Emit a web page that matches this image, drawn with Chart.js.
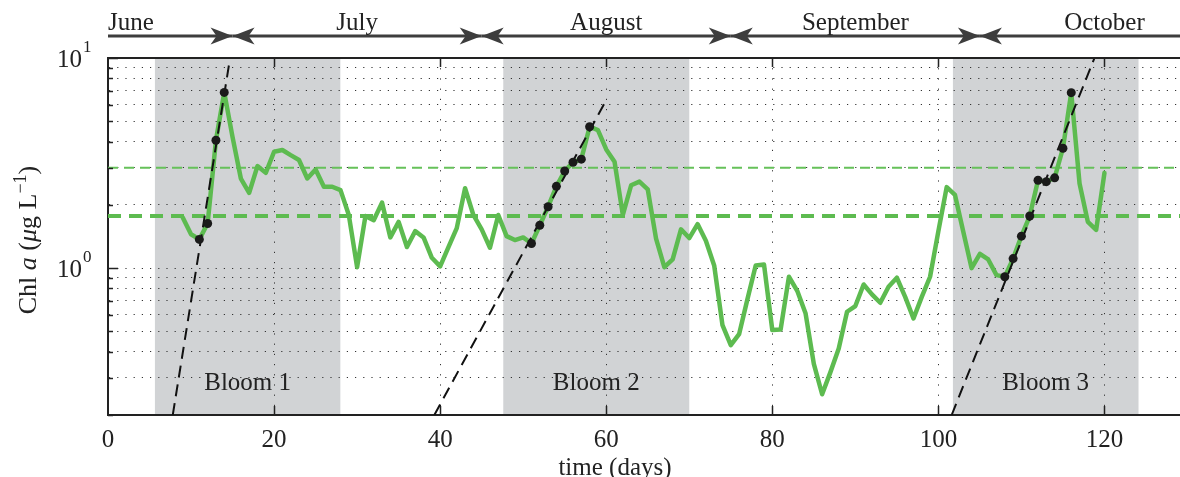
<!DOCTYPE html>
<html>
<head>
<meta charset="utf-8">
<script src="https://cdn.jsdelivr.net/npm/chart.js@4/dist/chart.umd.min.js"></script>
<style>
  html, body { margin: 0; padding: 0; overflow: hidden; background: #fff; }
  #wrap { width: 1192px; height: 477px; }
</style>
</head>
<body>
<div id="wrap"><canvas id="chlChart"></canvas></div>
<script>
/* Chl a time series, one value per day */
const days = [9, 10, 11, 12, 13, 14, 15, 16, 17, 18, 19, 20, 21, 22, 23, 24, 25, 26, 27, 28,
  29, 30, 31, 32, 33, 34, 35, 36, 37, 38, 39, 40, 41, 42, 43, 44, 45, 46, 47, 48,
  49, 50, 51, 52, 53, 54, 55, 56, 57, 58, 59, 60, 61, 62, 63, 64, 65, 66, 67, 68,
  69, 70, 71, 72, 73, 74, 75, 76, 77, 78, 79, 80, 81, 82, 83, 84, 85, 86, 87, 88,
  89, 90, 91, 92, 93, 94, 95, 96, 97, 98, 99, 100, 101, 102, 103, 104, 105, 106, 107, 108,
  109, 110, 111, 112, 113, 114, 115, 116, 117, 118, 119, 120];
const chl = [1.74, 1.45, 1.37, 1.63, 4.06, 6.86, 4.2, 2.67, 2.28, 3.06, 2.84, 3.58, 3.65, 3.45, 3.27, 2.67, 2.95, 2.44, 2.44, 2.35,
  1.79, 1.01, 1.77, 1.69, 2.05, 1.40, 1.66, 1.26, 1.50, 1.40, 1.12, 1.02, 1.26, 1.55, 2.40, 1.79, 1.53, 1.25, 1.79, 1.42,
  1.36, 1.40, 1.31, 1.60, 1.96, 2.45, 2.90, 3.19, 3.30, 4.71, 4.54, 3.67, 3.21, 1.79, 2.48, 2.58, 2.37, 1.38, 1.01, 1.10,
  1.53, 1.39, 1.62, 1.35, 1.03, 0.535, 0.43, 0.485, 0.71, 1.03, 1.04, 0.507, 0.51, 0.91, 0.78, 0.61, 0.35, 0.251, 0.32, 0.415,
  0.62, 0.66, 0.836, 0.75, 0.684, 0.815, 0.90, 0.73, 0.576, 0.73, 0.91, 1.5, 2.43, 2.23, 1.49, 1.0, 1.17, 1.10, 0.926, 0.91,
  1.11, 1.42, 1.77, 2.62, 2.58, 2.69, 3.72, 6.84, 2.53, 1.66, 1.52, 2.84];

/* days used for the growth fits (black dots) */
const fitDays = [11, 12, 13, 14, 51, 52, 53, 54, 55, 56, 57, 58,
  108, 109, 110, 111, 112, 113, 114, 115, 116];

/* growth fit lines, end points [day, chl] */
const fitStart = [[7.8, 0.2], [39.3, 0.2], [101.6, 0.2]];
const fitEnd = [[14.7, 10], [60.0, 6.3], [118.8, 10]];

/* bloom periods */
const bloomNames = ['Bloom 1', 'Bloom 2', 'Bloom 3'];
const bloomStart = [5.65, 47.6, 101.75];
const bloomEnd = [27.98, 70.0, 124.1];

/* threshold levels (dashed green) */
const thresholds = [1.77, 3.0];

/* months along the top */
const months = ['June', 'July', 'August', 'September', 'October'];
const monthEdges = [0, 15, 45, 75, 105, 130];
const monthMid = [0, 30, 60, 90, 120];

const xTicks = [0, 20, 40, 60, 80, 100, 120];
const yTicks = [0.2, 0.3, 0.4, 0.5, 0.6, 0.7, 0.8, 0.9, 1, 2, 3, 4, 5, 6, 7, 8, 9, 10];
const yMajor = [1, 10];

const serif = '"Liberation Serif", "Times New Roman", serif';
const green = '#5dbb50';
const ink = '#222';

function arrowHead(ctx, tipX, y, dir) {
  const L = 22, H = 8.5, N = 6;
  ctx.beginPath();
  ctx.moveTo(tipX, y);
  ctx.lineTo(tipX - dir * L, y - H);
  ctx.lineTo(tipX - dir * (L - N), y);
  ctx.lineTo(tipX - dir * L, y + H);
  ctx.closePath();
  ctx.fill();
}

const decor = {
  id: 'decor',
  beforeDraw(chart) {
    const {ctx, chartArea: a, scales: {x}} = chart;
    ctx.save();
    ctx.fillStyle = '#fff';
    ctx.fillRect(0, 0, chart.width, chart.height);
    ctx.fillStyle = '#d1d3d5';
    bloomStart.forEach((s, i) => {
      const x0 = x.getPixelForValue(s), x1 = x.getPixelForValue(bloomEnd[i]);
      ctx.fillRect(x0, a.top, x1 - x0, a.bottom - a.top);
    });
    ctx.restore();
  },
  afterDraw(chart) {
    const {ctx, chartArea: a, scales: {x, y}} = chart;
    ctx.save();

    // top frame + inward ticks
    ctx.strokeStyle = ink;
    ctx.lineWidth = 2;
    ctx.beginPath();
    ctx.moveTo(a.left - 1, a.top);
    ctx.lineTo(a.right, a.top);
    ctx.stroke();
    ctx.lineWidth = 1.5;
    ctx.beginPath();
    xTicks.slice(1).forEach(v => {
      const px = Math.round(x.getPixelForValue(v)) + 0.5;
      ctx.moveTo(px, a.bottom); ctx.lineTo(px, a.bottom - 9);
      ctx.moveTo(px, a.top); ctx.lineTo(px, a.top + 9);
    });
    yTicks.forEach(v => {
      const py = Math.round(y.getPixelForValue(v)) + 0.5;
      const len = yMajor.includes(v) ? 10 : 5;
      ctx.moveTo(a.left, py); ctx.lineTo(a.left + len, py);
    });
    ctx.stroke();

    // y tick labels 10^0, 10^1
    ctx.fillStyle = ink;
    ctx.textBaseline = 'alphabetic';
    yMajor.forEach(v => {
      const py = y.getPixelForValue(v);
      ctx.font = '25px ' + serif;
      ctx.textAlign = 'right';
      ctx.fillText('10', 82, py + 9);
      ctx.font = '17px ' + serif;
      ctx.textAlign = 'left';
      ctx.fillText(String(Math.round(Math.log10(v))), 83, py - 6);
    });

    // y axis title
    ctx.save();
    ctx.translate(36, 240);
    ctx.rotate(-Math.PI / 2);
    const parts = [
      ['Chl ', '', 26, 0], ['a', 'italic ', 26, 0], [' (', '', 26, 0], ['\u03bc', 'italic ', 26, 0],
      ['g L', '', 26, 0], ['\u22121', '', 18, -10], [')', '', 26, 0]
    ];
    let total = 0;
    parts.forEach(p => { ctx.font = p[1] + p[2] + 'px ' + serif; total += ctx.measureText(p[0]).width; });
    let cx = -total / 2;
    ctx.textAlign = 'left';
    parts.forEach(p => {
      ctx.font = p[1] + p[2] + 'px ' + serif;
      ctx.fillText(p[0], cx, p[3]);
      cx += ctx.measureText(p[0]).width;
    });
    ctx.restore();

    // x axis title
    ctx.font = '25px ' + serif;
    ctx.textAlign = 'center';
    ctx.fillText('time (days)', 615, 475);

    // bloom labels
    bloomNames.forEach((n, i) => {
      const cxp = (x.getPixelForValue(bloomStart[i]) + x.getPixelForValue(bloomEnd[i])) / 2;
      ctx.fillText(n, cxp, 390);
    });

    // month arrows
    const ay = 36;
    ctx.strokeStyle = '#3d3d3d';
    ctx.fillStyle = '#3d3d3d';
    ctx.lineWidth = 3;
    months.forEach((m, i) => {
      const x0 = x.getPixelForValue(monthEdges[i]);
      const x1 = x.getPixelForValue(monthEdges[i + 1]);
      ctx.beginPath();
      ctx.moveTo(x0, ay); ctx.lineTo(x1, ay);
      ctx.stroke();
      if (i > 0) arrowHead(ctx, x0, ay, -1);
      if (i < months.length - 1) arrowHead(ctx, x1, ay, 1);
    });
    ctx.fillStyle = ink;
    ctx.font = '25px ' + serif;
    ctx.textAlign = 'center';
    months.forEach((m, i) => {
      const w = ctx.measureText(m).width;
      const cxp = Math.max(x.getPixelForValue(monthMid[i]), a.left + w / 2);
      ctx.fillText(m, cxp, 30);
    });

    ctx.restore();
  }
};

const series = days.map((d, i) => ({x: d, y: chl[i]}));
const dots = fitDays.map(d => ({x: d, y: chl[days.indexOf(d)]}));

const datasets = [
  {data: dots, showLine: false, pointRadius: 4.5, pointBackgroundColor: '#1a1a1a',
    pointBorderWidth: 0, order: 0}
];
fitStart.forEach((p, i) => {
  datasets.push({
    data: [{x: p[0], y: p[1]}, {x: fitEnd[i][0], y: fitEnd[i][1]}],
    borderColor: '#111', borderWidth: 2, borderDash: [12, 7], pointRadius: 0, order: 1
  });
});
datasets.push({data: series, borderColor: green, borderWidth: 4.5, pointRadius: 0,
  borderJoinStyle: 'round', borderCapStyle: 'round', order: 2});
thresholds.forEach((t, i) => {
  datasets.push({
    data: [{x: 0, y: t}, {x: 130, y: t}],
    borderColor: i === 0 ? green : '#66c15a',
    borderWidth: i === 0 ? 4 : 2,
    borderDash: i === 0 ? [13, 8] : [10, 6],
    pointRadius: 0, order: 3
  });
});

new Chart(document.getElementById('chlChart'), {
  type: 'line',
  data: {datasets: datasets},
  options: {
    responsive: true,
    maintainAspectRatio: false,
    animation: false,
    layout: {padding: {left: 0, top: 58, right: 3, bottom: 0}},
    plugins: {legend: {display: false}, tooltip: {enabled: false}},
    scales: {
      x: {
        type: 'linear', min: 0, max: 130,
        afterBuildTicks: s => { s.ticks = xTicks.map(v => ({value: v})); },
        afterFit: s => { s.height = 62; },
        ticks: {font: {family: serif, size: 25}, color: ink, padding: 10, maxRotation: 0},
        grid: {color: '#333', lineWidth: 1, drawTicks: false},
        border: {display: true, color: ink, width: 2, dash: [1.2, 9]}
      },
      y: {
        type: 'logarithmic', min: 0.2, max: 10,
        afterBuildTicks: s => { s.ticks = yTicks.map(v => ({value: v})); },
        afterFit: s => { s.width = 108; },
        ticks: {display: false},
        grid: {color: '#333', lineWidth: 1, drawTicks: false},
        border: {display: true, color: ink, width: 2, dash: [1.2, 7]}
      }
    }
  },
  plugins: [decor]
});
</script>
</body>
</html>
